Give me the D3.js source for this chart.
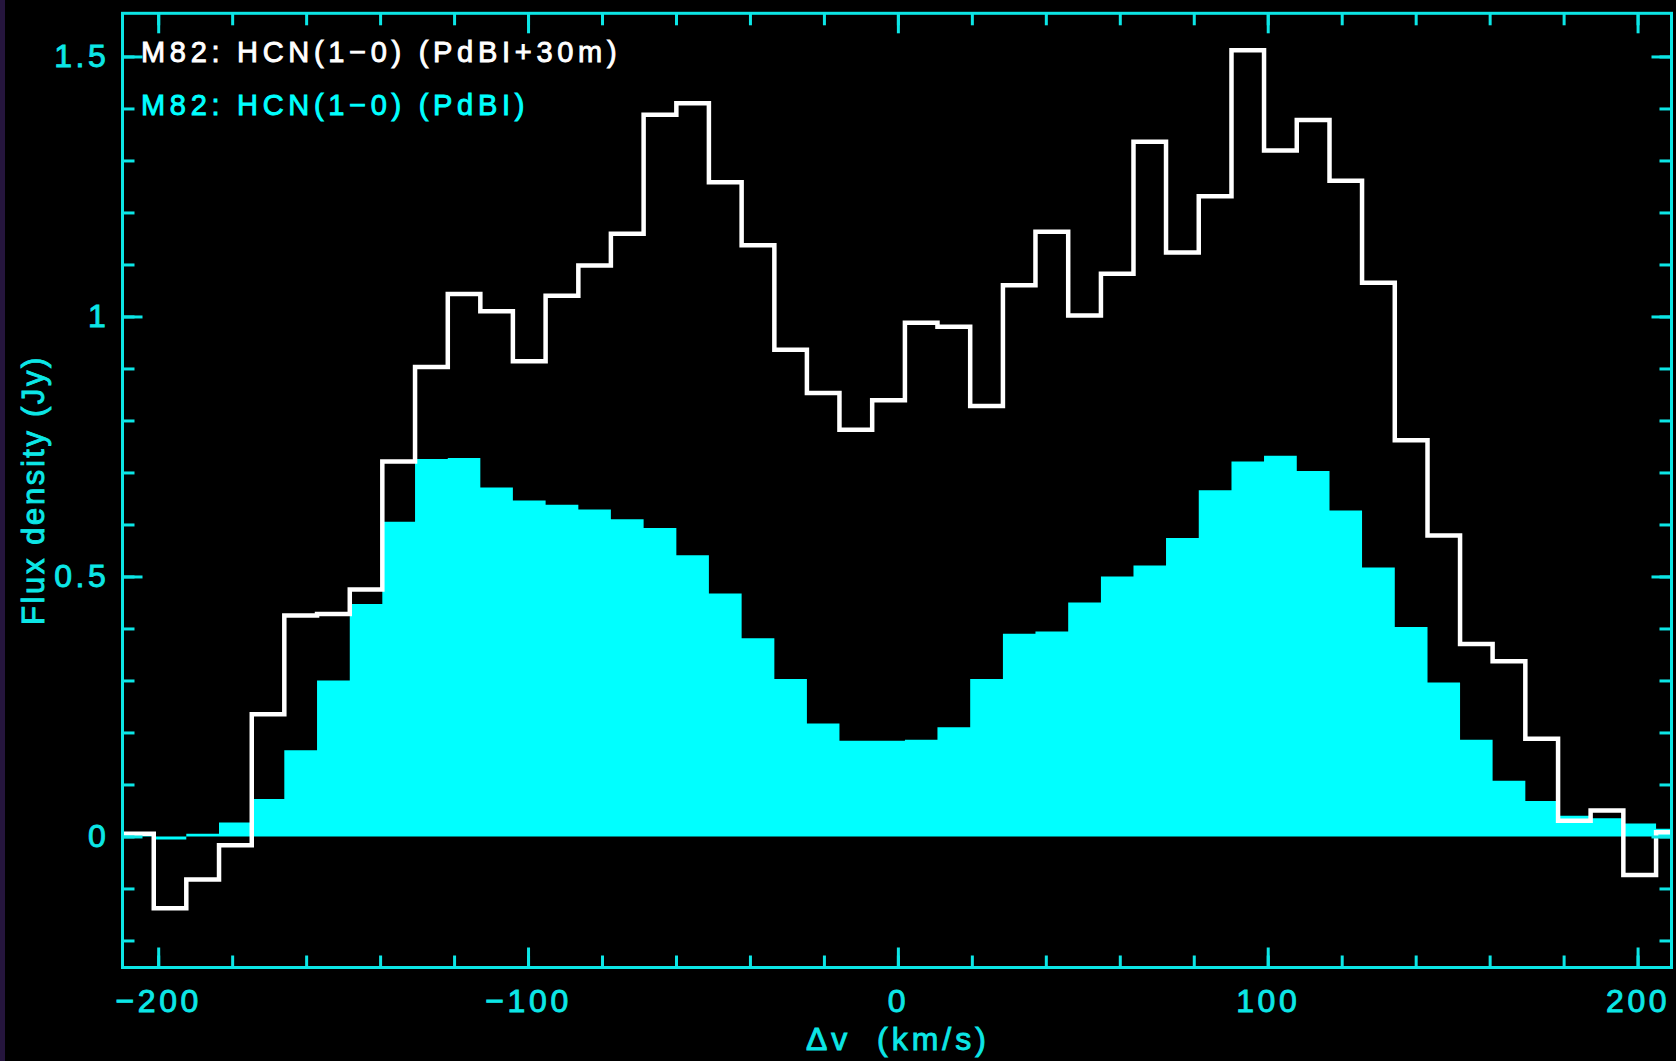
<!DOCTYPE html>
<html>
<head>
<meta charset="utf-8">
<script src="https://cdn.jsdelivr.net/npm/d3@7"></script>
<style>
  html, body { margin: 0; padding: 0; background: #000; }
  svg { display: block; }
</style>
</head>
<body>
<script>
// channel centres (km/s)
const velocity = [
  -205.6, -196.8, -188.0, -179.1, -170.3, -161.5, -152.6, -143.8, -135.0, -126.1,
  -117.3, -108.5, -99.7, -90.8, -82.0, -73.2, -64.3, -55.5, -46.7, -37.8,
  -29.0, -20.2, -11.4, -2.5, 6.3, 15.1, 24.0, 32.8, 41.6, 50.5,
  59.3, 68.1, 76.9, 85.8, 94.6, 103.4, 112.3, 121.1, 129.9, 138.8,
  147.6, 156.4, 165.2, 174.1, 182.9, 191.7, 200.6, 209.4
];

// PdBI+30m (white outline), Jy
const fluxCombined = [
  0.005, -0.138, -0.083, -0.017, 0.235, 0.425, 0.428, 0.475, 0.721, 0.903,
  1.043, 1.010, 0.914, 1.040, 1.098, 1.159, 1.388, 1.410, 1.258, 1.137,
  0.936, 0.853, 0.782, 0.839, 0.988, 0.980, 0.828, 1.060, 1.163, 1.002,
  1.082, 1.336, 1.123, 1.231, 1.512, 1.319, 1.378, 1.261, 1.065, 0.762,
  0.579, 0.370, 0.337, 0.188, 0.030, 0.050, -0.074, 0.008
];

// PdBI only (cyan fill), Jy
const fluxPdBI = [
  0.002, -0.006, 0.005, 0.027, 0.072, 0.166, 0.300, 0.447, 0.605, 0.726,
  0.728, 0.671, 0.646, 0.638, 0.629, 0.610, 0.593, 0.541, 0.467, 0.381,
  0.303, 0.217, 0.184, 0.184, 0.186, 0.210, 0.303, 0.390, 0.394, 0.450,
  0.500, 0.521, 0.574, 0.666, 0.721, 0.732, 0.703, 0.627, 0.517, 0.403,
  0.296, 0.186, 0.107, 0.068, 0.040, 0.035, 0.025, 0.015
];

const xMajorTicks = [-200, -100, 0, 100, 200];
const xTickLabels = ['\u2212200', '\u2212100', '0', '100', '200'];
const yMajorTicks = [0, 0.5, 1, 1.5];
const yTickLabels = ['0', '0.5', '1', '1.5'];
const legendLabels = ['M82: HCN(1\u22120) (PdBI+30m)', 'M82: HCN(1\u22120) (PdBI)'];

const W = 1676, H = 1061;
const CYAN = '#00ffff';
const AXIS = '#0ce6e6';
const FONT = '"Liberation Sans", Arial, sans-serif';

const x = d3.scaleLinear().domain([-209.65, 209.17]).range([122.5, 1671.5]);
const y = d3.scaleLinear().domain([-0.252, 1.583]).range([967.5, 13.3]);

const svg = d3
  .select('body')
  .append('svg')
  .attr('width', W)
  .attr('height', H);

svg.append('rect').attr('width', W).attr('height', H).attr('fill', '#000');
// dark purple sliver on the left edge of the screenshot
svg.append('rect').attr('width', 5).attr('height', H).attr('fill', '#25153d');

const [x0, x1] = x.range();
const [yb, yt] = y.range();

svg
  .append('clipPath')
  .attr('id', 'plot-clip')
  .append('rect')
  .attr('x', x0)
  .attr('y', yt)
  .attr('width', x1 - x0)
  .attr('height', yb - yt);

// channel edges halfway between centres
const edges = velocity.map((v, i) => {
  const lo = i > 0 ? (velocity[i - 1] + v) / 2 : v - (velocity[1] - velocity[0]) / 2;
  const hi = i < velocity.length - 1 ? (v + velocity[i + 1]) / 2 : v + (v - velocity[i - 1]) / 2;
  return [lo, hi];
});
const steps = series => series.flatMap((f, i) => [[edges[i][0], f], [edges[i][1], f]]);

const $plot = svg.append('g').attr('clip-path', 'url(#plot-clip)');

// PdBI filled histogram
$plot
  .append('path')
  .datum(steps(fluxPdBI))
  .attr('d', d3.area().x(d => x(d[0])).y0(y(0)).y1(d => y(d[1])))
  .attr('fill', CYAN);

// PdBI+30m outline
$plot
  .append('path')
  .datum(steps(fluxCombined))
  .attr('d', d3.line().x(d => x(d[0])).y(d => y(d[1])))
  .attr('fill', 'none')
  .attr('stroke', '#fff')
  .attr('stroke-width', 4.5)
  .attr('stroke-linejoin', 'miter');

// slightly heavier text, like the plotting package's stroke font
const heavyText = (sel, color, size, spacing) =>
  sel
    .attr('fill', color)
    .attr('stroke', color)
    .attr('stroke-width', 0.9)
    .style('font-family', FONT)
    .style('font-size', size)
    .style('letter-spacing', spacing);

// axes: ticks point inwards on all four sides
const styleAxis = g => {
  g.select('.domain').remove();
  g.selectAll('line').attr('stroke', AXIS).attr('stroke-width', 3);
  g.selectAll('text').call(heavyText, AXIS, '32px', '3.6px');
};

const xMinor = d3.range(-200, 201, 20);
const yMinor = d3.range(-0.2, 1.55, 0.1);

svg.append('g').attr('transform', `translate(0,${yb})`)
  .call(d3.axisBottom(x).tickValues(xMinor).tickSize(-12).tickFormat(''))
  .call(styleAxis);
svg.append('g').attr('transform', `translate(0,${yb})`)
  .call(d3.axisBottom(x).tickValues(xMajorTicks).tickSize(-20).tickPadding(22)
    .tickFormat((d, i) => xTickLabels[i]))
  .call(styleAxis);
svg.append('g').attr('transform', `translate(0,${yt})`)
  .call(d3.axisTop(x).tickValues(xMinor).tickSize(-12).tickFormat(''))
  .call(styleAxis);
svg.append('g').attr('transform', `translate(0,${yt})`)
  .call(d3.axisTop(x).tickValues(xMajorTicks).tickSize(-20).tickFormat(''))
  .call(styleAxis);

svg.append('g').attr('transform', `translate(${x0},0)`)
  .call(d3.axisLeft(y).tickValues(yMinor).tickSize(-12).tickFormat(''))
  .call(styleAxis);
svg.append('g').attr('transform', `translate(${x0},0)`)
  .call(d3.axisLeft(y).tickValues(yMajorTicks).tickSize(-20).tickPadding(13)
    .tickFormat((d, i) => yTickLabels[i]))
  .call(styleAxis);
svg.append('g').attr('transform', `translate(${x1},0)`)
  .call(d3.axisRight(y).tickValues(yMinor).tickSize(-12).tickFormat(''))
  .call(styleAxis);
svg.append('g').attr('transform', `translate(${x1},0)`)
  .call(d3.axisRight(y).tickValues(yMajorTicks).tickSize(-20).tickFormat(''))
  .call(styleAxis);

// frame
svg
  .append('rect')
  .attr('x', x0)
  .attr('y', yt)
  .attr('width', x1 - x0)
  .attr('height', yb - yt)
  .attr('fill', 'none')
  .attr('stroke', AXIS)
  .attr('stroke-width', 3);

// axis titles
svg
  .append('text')
  .attr('x', x(0))
  .attr('y', 1050)
  .attr('text-anchor', 'middle')
  .style('white-space', 'pre')
  .call(heavyText, AXIS, '32px', '4px')
  .text('\u0394v  (km/s)');

svg
  .append('text')
  .attr('transform', `translate(44,${(355 + 625) / 2}) rotate(-90)`)
  .attr('text-anchor', 'middle')
  .call(heavyText, AXIS, '31px', '2.6px')
  .text('Flux density (Jy)');

// legend
svg
  .selectAll('text.legend')
  .data(legendLabels)
  .enter()
  .append('text')
  .attr('class', 'legend')
  .attr('x', 141)
  .attr('y', (d, i) => 62 + i * 53)
  .each(function(d, i) {
    d3.select(this).call(heavyText, i === 0 ? '#fff' : CYAN, '29px', '4.7px');
  })
  .text(d => d);
</script>
</body>
</html>
